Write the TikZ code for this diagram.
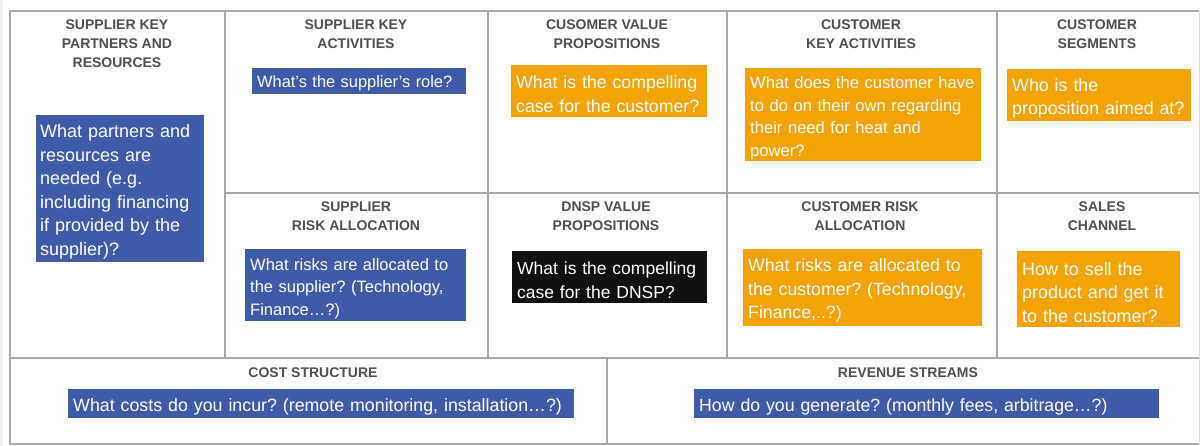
\documentclass[tikz,border=0pt]{standalone}
\usepackage{fontspec}
\setmainfont{Liberation Sans}
\definecolor{gridline}{HTML}{A8A8A8}
\definecolor{titlegray}{HTML}{4F4F4F}
\definecolor{bblue}{HTML}{3E5BA8}
\definecolor{borange}{HTML}{F3A303}
\definecolor{bblack}{HTML}{111111}
\tikzset{
  gridl/.style={draw=gridline, line width=1.2pt},
  ttl/.style={font=\fontsize{14}{19}\selectfont\bfseries, text=titlegray, align=center, anchor=north, inner sep=0pt},
  qbox/.style={anchor=north west, inner xsep=5pt, inner ysep=0pt, text=white, text height=19pt,
    execute at begin node={\frenchspacing\hyphenpenalty=10000\rightskip=0pt plus 1fil minus 60pt\relax}},
  fs/.style 2 args={font=\fontsize{#1}{#2}\selectfont},
  blueq/.style={qbox, fill=bblue},
  orangeq/.style={qbox, fill=borange},
  blackq/.style={qbox, fill=bblack},
}
\begin{document}
\begin{tikzpicture}[x=1pt, y=-1pt]
\useasboundingbox (0,0) rectangle (1200,446);
\fill[white] (0,0) rectangle (1200,446);
\fill[black!6] (0,0) rectangle (3,446);
% grid
\draw[gridl] (1199,11) -- (10,11) -- (10,444) -- (1199,444);
\draw[draw=gridline!40, line width=0.8pt] (1199,11) -- (1199,444);
\draw[gridl] (10,358) -- (1199,358);
\draw[gridl] (225,193) -- (1199,193);
\draw[gridl] (225,11) -- (225,358);
\draw[gridl] (488,11) -- (488,358);
\draw[gridl] (727,11) -- (727,358);
\draw[gridl] (997,11) -- (997,358);
\draw[gridl] (607,358) -- (607,444);
% titles
\node[ttl] (t1) at (117,20) {SUPPLIER KEY\\PARTNERS AND\\RESOURCES};
\node[ttl] (t2) at (356,20) {SUPPLIER KEY\\ACTIVITIES};
\node[ttl] (t3) at (607,20) {CUSOMER VALUE\\PROPOSITIONS};
\node[ttl] (t4) at (861,20) {CUSTOMER\\KEY ACTIVITIES};
\node[ttl] (t5) at (1097,20) {CUSTOMER\\SEGMENTS};
\node[ttl] (t6) at (356,202) {SUPPLIER\\RISK ALLOCATION};
\node[ttl] (t7) at (606,202) {DNSP VALUE\\PROPOSITIONS};
\node[ttl] (t8) at (860,202) {CUSTOMER RISK\\ALLOCATION};
\node[ttl] (t9) at (1102,202) {SALES\\CHANNEL};
\node[ttl] (t10) at (313,368) {COST STRUCTURE};
\node[ttl] (t11) at (908,368) {REVENUE STREAMS};
% question boxes
\node[blueq, fs={18}{23.5}, text width=160pt, minimum height=147pt, inner xsep=4pt] (q1) at (36,115)
  {What partners and\\resources are\\needed (e.g.\\including financing\\if provided by the\\supplier)?};
\node[blueq, fs={16.4}{22}, text width=204pt, minimum height=26pt, text height=16pt] (q2) at (252,68)
  {What’s the supplier’s role?};
\node[orangeq, fs={17.7}{23.5}, text width=186pt, minimum height=52pt] (q3) at (511,65)
  {What is the compelling\\case for the customer?};
\node[orangeq, fs={16.6}{22.5}, text width=226pt, minimum height=93pt] (q4) at (745,68)
  {What does the customer have\\to do on their own regarding\\their need for heat and\\power?};
\node[orangeq, fs={17.8}{23.5}, text width=174pt, minimum height=52pt] (q5) at (1007,69)
  {Who is the\\proposition aimed at?};
\node[blueq, fs={16.5}{22.5}, text width=211pt, minimum height=72pt] (q6) at (245,249)
  {What risks are allocated to\\the supplier? (Technology,\\Finance…?)};
\node[blackq, fs={17.5}{23.3}, text width=185pt, minimum height=52pt] (q7) at (512,251)
  {What is the compelling\\case for the DNSP?};
\node[orangeq, fs={17.7}{23.5}, text width=229pt, minimum height=77pt] (q8) at (743,249)
  {What risks are allocated to\\the customer? (Technology,\\Finance,..?)};
\node[orangeq, fs={17.9}{23.6}, text width=153pt, minimum height=76pt] (q9) at (1017,251)
  {How to sell the\\product and get it\\to the customer?};
\node[blueq, fs={17.8}{23.5}, text width=496pt, minimum height=29pt] (q10) at (68,389)
  {What costs do you incur? (remote monitoring, installation…?)};
\node[blueq, fs={17.7}{23.5}, text width=455pt, minimum height=29pt] (q11) at (694,389)
  {How do you generate? (monthly fees, arbitrage…?)};
\end{tikzpicture}
\end{document}
